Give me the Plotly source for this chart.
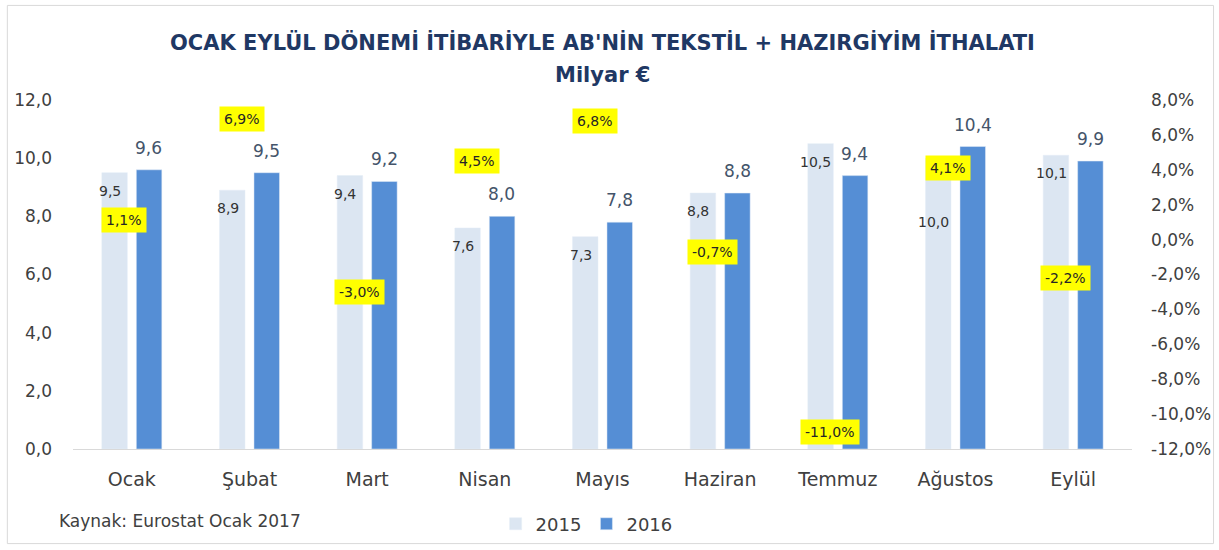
import plotly.graph_objects as go

months = ["Ocak", "Şubat", "Mart", "Nisan", "Mayıs", "Haziran", "Temmuz", "Ağustos", "Eylül"]
v2015 = [9.5, 8.9, 9.4, 7.6, 7.3, 8.8, 10.5, 10.0, 10.1]
v2016 = [9.6, 9.5, 9.2, 8.0, 7.8, 8.8, 9.4, 10.4, 9.9]
change_pct = [1.1, 6.9, -3.0, 4.5, 6.8, -0.7, -11.0, 4.1, -2.2]
y2_tickvals = [8, 6, 4, 2, 0, -2, -4, -6, -8, -10, -12]
y2_ticktext = ["8,0%", "6,0%", "4,0%", "2,0%", "0,0%", "-2,0%", "-4,0%", "-6,0%",
               "-8,0%", "-10,0%", "-12,0%"]

FONT = "DejaVu Sans"
TXT = "#404040"
fmt = lambda v: f"{v:.1f}".replace(".", ",")

# label nudges (styling only): keep a 2015 label clear of the yellow box
label_nudge_2015 = {"Ağustos": -46}

fig = go.Figure()
fig.add_trace(go.Bar(
    x=months, y=v2015, name="2015", marker_color="#DCE6F2",
    hoverinfo="skip",
))
fig.add_trace(go.Bar(
    x=months, y=v2016, name="2016", marker_color="#558ED5",
    hoverinfo="skip",
))
# invisible carrier for the secondary axis
fig.add_trace(go.Scatter(
    x=months, y=change_pct, yaxis="y2", mode="markers",
    marker=dict(opacity=0), showlegend=False, hoverinfo="skip",
))

annotations = []
for m, v in zip(months, v2015):
    annotations.append(dict(
        x=m, y=v, xref="x", yref="y", text=fmt(v), showarrow=False,
        xshift=-22, yshift=-18 + label_nudge_2015.get(m, 0), yanchor="middle",
        font=dict(family=FONT, size=14, color="#333333"),
    ))
for m, v in zip(months, v2016):
    annotations.append(dict(
        x=m, y=v, xref="x", yref="y", text=fmt(v), showarrow=False,
        xshift=17, yshift=10, yanchor="bottom",
        font=dict(family=FONT, size=17, color="#44546A"),
    ))
for m, p in zip(months, change_pct):
    annotations.append(dict(
        x=m, y=p, xref="x", yref="y2", text=fmt(p) + "%", showarrow=False,
        xshift=-8, bgcolor="#FFFF00", borderpad=4,
        font=dict(family=FONT, size=14, color="#262626"),
    ))
annotations.append(dict(
    x=-0.0155, y=-0.205, xref="paper", yref="paper", xanchor="left", yanchor="middle",
    text="Kaynak: Eurostat Ocak 2017", showarrow=False,
    font=dict(family=FONT, size=17, color=TXT),
))
# two-line title, placed as paper annotations for exact line spacing
annotations.append(dict(
    x=0.5, y=1.166, xref="paper", yref="paper", xanchor="center", yanchor="middle",
    text="<b>OCAK EYLÜL DÖNEMİ İTİBARİYLE AB'NİN TEKSTİL + HAZIRGİYİM İTHALATI</b>",
    showarrow=False, font=dict(family=FONT, size=21, color="#1F3864"),
))
annotations.append(dict(
    x=0.5, y=1.072, xref="paper", yref="paper", xanchor="center", yanchor="middle",
    text="<b>Milyar €</b>",
    showarrow=False, font=dict(family=FONT, size=21, color="#1F3864"),
))

fig.update_layout(
    width=1219, height=550,
    margin=dict(l=73, r=87, t=100, b=101, autoexpand=False),
    paper_bgcolor="white", plot_bgcolor="white",
    separators=",.",
    barmode="group", bargap=0.414, bargroupgap=0.26,
    xaxis=dict(
        showgrid=False, showline=True, linecolor="#D9D9D9", linewidth=1,
        ticks="", ticklabelstandoff=13,
        tickfont=dict(family=FONT, size=19, color=TXT),
    ),
    yaxis=dict(
        range=[0, 12], dtick=2, tickformat=".1f", showgrid=False, zeroline=False,
        ticks="", ticklabelstandoff=20,
        tickfont=dict(family=FONT, size=17, color=TXT),
    ),
    yaxis2=dict(
        range=[-12, 8], tickmode="array", tickvals=y2_tickvals, ticktext=y2_ticktext,
        overlaying="y", side="right", showgrid=False, zeroline=False,
        ticks="", ticklabelstandoff=18,
        tickfont=dict(family=FONT, size=17, color=TXT),
    ),
    legend=dict(
        orientation="h", x=0.485, xanchor="center", y=-0.215, yanchor="middle",
        font=dict(family=FONT, size=18, color=TXT), traceorder="normal",
    ),
    annotations=annotations,
    shapes=[dict(
        type="rect", xref="paper", yref="paper",
        x0=-0.062, x1=1.077, y0=-0.271, y1=1.271,
        line=dict(color="#D9D9D9", width=1), fillcolor="rgba(0,0,0,0)",
    )],
)

fig.write_html("out.html", config={"displayModeBar": False},
               post_script="document.body.style.margin='0';")
